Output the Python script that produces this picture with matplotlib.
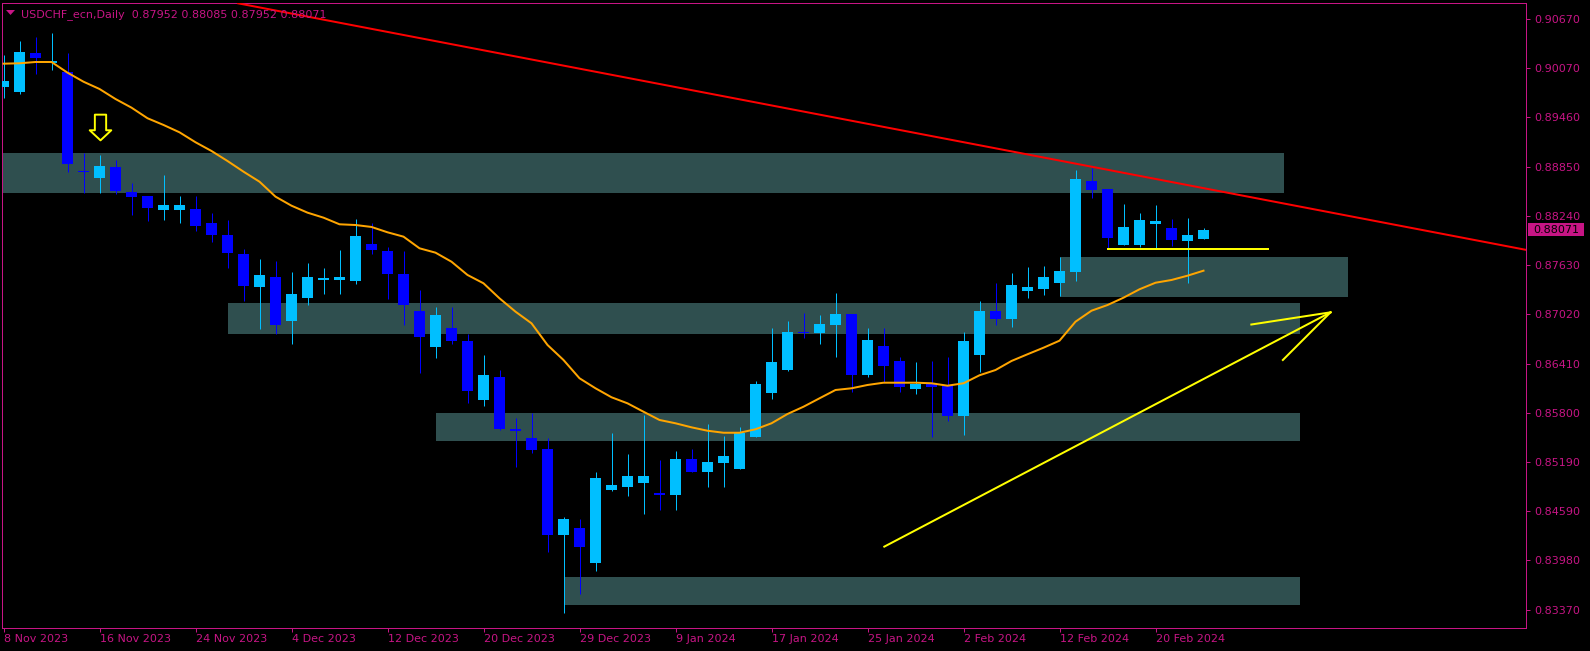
import matplotlib
matplotlib.use("Agg")
import matplotlib.pyplot as plt
import numpy as np
from matplotlib.patches import Rectangle, Polygon
from matplotlib.path import Path

# ---------------- data ----------------
title_text = "USDCHF_ecn,Daily  0.87952 0.88085 0.87952 0.88071"

opens = [0.89835, 0.89777, 0.90256, 0.90140, 0.90017, 0.88789, 0.88709, 0.88845, 0.88536, 0.88486,
         0.88317, 0.88317, 0.88325, 0.88152, 0.88004, 0.87769, 0.87364, 0.87484, 0.86943, 0.87228,
         0.87451, 0.87451, 0.87438, 0.87892, 0.87806, 0.87521, 0.87063, 0.86618, 0.86853, 0.86692,
         0.85962, 0.86247, 0.85593, 0.85492, 0.85356, 0.84292, 0.84378, 0.83945, 0.84849, 0.84886,
         0.84935, 0.84802, 0.84787, 0.85232, 0.85071, 0.85183, 0.85108, 0.85504, 0.86049, 0.86333,
         0.86804, 0.86795, 0.86894, 0.87026, 0.86275, 0.86630, 0.86445, 0.86098, 0.86160, 0.86135,
         0.85768, 0.86523, 0.87063, 0.86968, 0.87314, 0.87339, 0.87413, 0.87550, 0.88672, 0.88573,
         0.87884, 0.87884, 0.88143, 0.88090, 0.87933, 0.87952]

highs = [0.90231, 0.90404, 0.90453, 0.90503, 0.90256, 0.89022, 0.88994, 0.88932, 0.88647, 0.88486,
         0.88746, 0.88486, 0.88486, 0.88276, 0.88189, 0.87830, 0.87707, 0.87682, 0.87546, 0.87657,
         0.87595, 0.87818, 0.88202, 0.88152, 0.87855, 0.87806, 0.87323, 0.87113, 0.87113, 0.86779,
         0.86519, 0.86333, 0.85739, 0.85801, 0.85492, 0.84514, 0.84490, 0.85071, 0.85554, 0.85294,
         0.85777, 0.85220, 0.85331, 0.85356, 0.85665, 0.85517, 0.85628, 0.86197, 0.86853, 0.86940,
         0.87039, 0.87014, 0.87286, 0.87026, 0.86853, 0.86853, 0.86494, 0.86432, 0.86445, 0.86494,
         0.86803, 0.87187, 0.87410, 0.87533, 0.87608, 0.87620, 0.87731, 0.88808, 0.88833, 0.88573,
         0.88387, 0.88276, 0.88375, 0.88202, 0.88214, 0.88085]

lows = [0.89702, 0.89752, 0.89996, 0.90049, 0.88787, 0.88527, 0.88527, 0.88515, 0.88255, 0.88181,
        0.88193, 0.88156, 0.88057, 0.87921, 0.87595, 0.87191, 0.86844, 0.86782, 0.86659, 0.87141,
        0.87277, 0.87277, 0.87401, 0.87772, 0.87215, 0.86890, 0.86300, 0.86482, 0.86655, 0.85925,
        0.85888, 0.85591, 0.85133, 0.85306, 0.84081, 0.83330, 0.83562, 0.83846, 0.84836, 0.84774,
        0.84552, 0.84601, 0.84601, 0.85071, 0.84886, 0.84886, 0.85108, 0.85504, 0.85974, 0.86321,
        0.86733, 0.86659, 0.86498, 0.86065, 0.86250, 0.86189, 0.86065, 0.86040, 0.85508, 0.85706,
        0.85533, 0.86312, 0.86894, 0.86869, 0.87228, 0.87265, 0.87253, 0.87438, 0.88465, 0.87847,
        0.87884, 0.87859, 0.87834, 0.87871, 0.87413, 0.87952]

closes = [0.89909, 0.90268, 0.90194, 0.90148, 0.88886, 0.88784, 0.88857, 0.88552, 0.88478, 0.88338,
          0.88375, 0.88375, 0.88115, 0.88007, 0.87785, 0.87373, 0.87509, 0.86894, 0.87274, 0.87484,
          0.87472, 0.87484, 0.87991, 0.87818, 0.87525, 0.87137, 0.86742, 0.87014, 0.86692, 0.86073,
          0.86271, 0.85603, 0.85588, 0.85343, 0.84292, 0.84490, 0.84143, 0.84997, 0.84910, 0.85022,
          0.85022, 0.84797, 0.85232, 0.85071, 0.85195, 0.85269, 0.85554, 0.86160, 0.86432, 0.86803,
          0.86799, 0.86902, 0.87026, 0.86275, 0.86705, 0.86387, 0.86123, 0.86160, 0.86123, 0.85768,
          0.86692, 0.87063, 0.86968, 0.87385, 0.87360, 0.87484, 0.87558, 0.88697, 0.88564, 0.87970,
          0.88103, 0.88189, 0.88177, 0.87945, 0.88004, 0.88071]

ma_values = [0.90123, 0.90128, 0.90144, 0.90144, 0.90012, 0.89900, 0.89810, 0.89686, 0.89579, 0.89448,
             0.89365, 0.89274, 0.89151, 0.89043, 0.88919, 0.88787, 0.88663, 0.88478, 0.88366, 0.88280,
             0.88218, 0.88136, 0.88127, 0.88103, 0.88037, 0.87983, 0.87839, 0.87785, 0.87673, 0.87509,
             0.87406, 0.87220, 0.87055, 0.86911, 0.86643, 0.86457, 0.86231, 0.86107, 0.85996, 0.85921,
             0.85817, 0.85715, 0.85674, 0.85624, 0.85582, 0.85557, 0.85557, 0.85600, 0.85674, 0.85789,
             0.85879, 0.85983, 0.86086, 0.86107, 0.86148, 0.86176, 0.86176, 0.86176, 0.86169, 0.86139,
             0.86169, 0.86268, 0.86333, 0.86445, 0.86528, 0.86609, 0.86696, 0.86931, 0.87067, 0.87137,
             0.87228, 0.87332, 0.87413, 0.87447, 0.87500, 0.87562]

date_tick_bars = [0, 6, 12, 18, 24, 30, 36, 42, 48, 54, 60, 66, 72]
date_labels = ["8 Nov 2023", "16 Nov 2023", "24 Nov 2023", "4 Dec 2023", "12 Dec 2023",
               "20 Dec 2023", "29 Dec 2023", "9 Jan 2024", "17 Jan 2024", "25 Jan 2024",
               "2 Feb 2024", "12 Feb 2024", "20 Feb 2024"]

price_ticks = [0.90670, 0.90070, 0.89460, 0.88850, 0.88240, 0.87630, 0.87020,
               0.86410, 0.85800, 0.85190, 0.84590, 0.83980, 0.83370]
price_labels = ["0.90670", "0.90070", "0.89460", "0.88850", "0.88240", "0.87630", "0.87020",
                "0.86410", "0.85800", "0.85190", "0.84590", "0.83980", "0.83370"]

# support / resistance zones (bar index start/end, price top/bottom)
zone_start = [-1, 14, 27, 35, 66]
zone_end = [80, 81, 81, 81, 84]
zone_top = [0.89018, 0.87162, 0.85801, 0.83772, 0.87731]
zone_bottom = [0.88527, 0.86782, 0.85459, 0.83426, 0.87240]

# drawn objects
trend_x = [14.66, 95.2]
trend_y = [0.90870, 0.87818]
rise_x = [55.05, 82.94]
rise_y = [0.84148, 0.87047]
wing1_x = [77.99, 82.94]
wing1_y = [0.86896, 0.87047]
wing2_x = [79.96, 82.94]
wing2_y = [0.86457, 0.87047]
level_x = [69, 79]
level_y = [0.87834, 0.87834]
signal_bar = 6
signal_price = 0.89337
last_price = 0.88071

# ---------------- style ----------------
W, H = 1590, 651
BG = "black"
FG = "#C71585"
BULL = "#00BFFF"
BEAR = "#0000FF"
ZONE = "#2F4F4F"
PX = 0.72  # one pixel in points

fig = plt.figure(figsize=(W / 100, H / 100), dpi=100, facecolor=BG)
ax_left, ax_right = 2 / W, 1526.3 / W
ax_top, ax_bot = 1 - 2.5 / H, 1 - 627.7 / H
ax = fig.add_axes([ax_left, ax_bot, ax_right - ax_left, ax_top - ax_bot])
ax.set_facecolor(BG)

xmin, xmax = -0.094, 95.175
ymin, ymax = 0.83145, 0.90880
ax.set_xlim(xmin, xmax)
ax.set_ylim(ymin, ymax)

# zones
for x0, x1, t, b in zip(zone_start, zone_end, zone_top, zone_bottom):
    ax.add_patch(Rectangle((x0, b), x1 - x0, t - b, facecolor=ZONE, edgecolor="none", zorder=1))

# candles
o = np.array(opens); h = np.array(highs); l = np.array(lows); c = np.array(closes)
idx = np.arange(len(o))
bull = c >= o
cols = np.where(bull, BULL, BEAR)
ax.vlines(idx, l, h, colors=cols, linewidth=PX, zorder=3)
axes_px_h = (ax_top - ax_bot) * H
min_h = (ymax - ymin) / axes_px_h * 1.2
body_lo = np.minimum(o, c)
body_h = np.abs(c - o)
small = body_h < min_h
body_lo = np.where(small, (o + c) / 2 - min_h / 2, body_lo)
body_h = np.where(small, min_h, body_h)
ax.bar(idx, body_h, bottom=body_lo, width=11 / 16, color=cols, linewidth=0, zorder=4)

# moving average
ax.plot(idx, ma_values, color="#FFA500", linewidth=2 * PX, zorder=5)

# lines
ax.plot(trend_x, trend_y, color="#FF0000", linewidth=2 * PX, zorder=6)
ax.plot(rise_x, rise_y, color="#FFFF00", linewidth=2 * PX, zorder=6)
ax.plot(wing1_x, wing1_y, color="#FFFF00", linewidth=2 * PX, zorder=6)
ax.plot(wing2_x, wing2_y, color="#FFFF00", linewidth=2 * PX, zorder=6)
ax.plot(level_x, level_y, color="#FFFF00", linewidth=2 * PX, zorder=6)

# hollow down arrow signal
arrow_verts = [(-0.22, 0.5), (0.22, 0.5), (0.22, -0.108), (0.42, -0.108), (0.0, -0.5),
               (-0.42, -0.108), (-0.22, -0.108), (-0.22, 0.5)]
arrow_path = Path(arrow_verts, [Path.MOVETO] + [Path.LINETO] * 6 + [Path.CLOSEPOLY])
ax.plot([signal_bar], [signal_price], marker=arrow_path, markersize=18.5,
        markerfacecolor=BG, markeredgecolor="#FFFF00", markeredgewidth=1.4, zorder=7)

# axes styling
for s in ax.spines.values():
    s.set_color(FG)
    s.set_linewidth(PX)
ax.set_xticks(date_tick_bars)
ax.set_xticklabels(date_labels, ha="left")
ax.yaxis.tick_right()
ax.set_yticks(price_ticks)
ax.set_yticklabels(price_labels)
ax.tick_params(axis="both", colors=FG, labelsize=8, length=3, width=PX, direction="out")
ax.tick_params(axis="x", pad=1.5)
ax.tick_params(axis="y", pad=3)

# last price box
fig.canvas.draw()
ydisp = ax.transData.transform((0, last_price))[1]
bx0, bx1 = 1527.7, 1584
bh = 13.4
fig.add_artist(Rectangle((bx0 / W, (ydisp - bh / 2) / H), (bx1 - bx0) / W, bh / H,
                         transform=fig.transFigure, facecolor=FG, edgecolor="none", zorder=10))
fig.text(1533.3 / W, ydisp / H, "%.5f" % last_price, color="black", fontsize=8,
         va="center", ha="left", zorder=11)

# header
fig.text(21 / W, 1 - 17.3 / H, title_text, color=FG, fontsize=8, va="baseline", ha="left")
tri = [(6 / W, 1 - 10 / H), (15 / W, 1 - 10 / H), (10.5 / W, 1 - 15 / H)]
fig.add_artist(Polygon(tri, closed=True, transform=fig.transFigure, facecolor=FG, edgecolor="none"))

fig.savefig("out.png", dpi=100, facecolor=BG)
